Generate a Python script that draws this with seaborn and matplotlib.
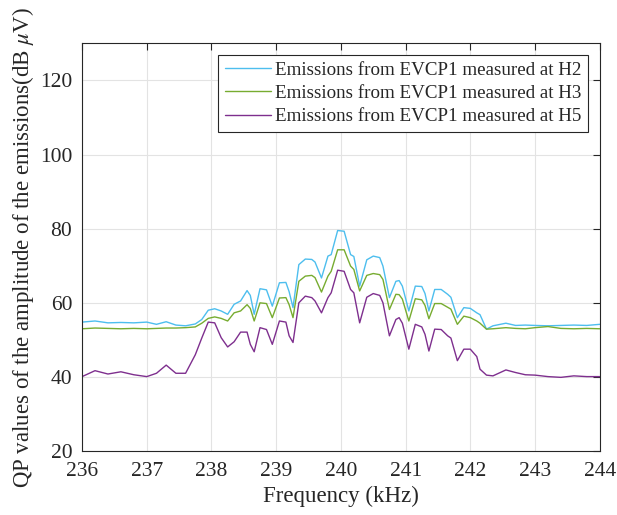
import matplotlib
matplotlib.use("Agg")
import matplotlib.pyplot as plt
import seaborn as sns
import pandas as pd

freq = [236.0, 236.2, 236.4, 236.6, 236.8, 237.0, 237.15, 237.3, 237.45, 237.6,
        237.75, 237.85, 237.95, 238.05, 238.15, 238.25, 238.35, 238.45, 238.55, 238.6,
        238.66, 238.75, 238.85, 238.94, 239.05, 239.15, 239.2, 239.26, 239.35, 239.45,
        239.55, 239.6, 239.7, 239.8, 239.85, 239.95, 240.05, 240.15, 240.2, 240.29,
        240.4, 240.5, 240.6, 240.65, 240.75, 240.85, 240.9, 240.95, 241.05, 241.15,
        241.25, 241.3, 241.36, 241.45, 241.55, 241.65, 241.7, 241.8, 241.9, 242.0,
        242.1, 242.15, 242.25, 242.35, 242.55, 242.7, 242.85, 243.0, 243.2, 243.4,
        243.6, 243.8, 244.0]

h2 = [54.8, 55.1, 54.6, 54.7, 54.6, 54.8, 54.2, 54.9, 54.0, 53.8,
      54.3, 55.5, 58.0, 58.4, 57.8, 56.9, 59.6, 60.5, 63.3, 62.0,
      56.9, 63.8, 63.5, 59.1, 65.4, 65.5, 63.0, 58.7, 70.3, 71.8,
      71.7, 71.0, 66.7, 72.6, 73.0, 79.5, 79.3, 73.0, 72.5, 64.5,
      71.6, 72.6, 72.2, 69.9, 61.4, 65.8, 66.0, 64.5, 57.8, 64.5,
      64.4, 62.5, 57.8, 63.6, 63.6, 62.3, 61.5, 56.0, 58.7, 58.5,
      57.3, 56.8, 52.9, 53.8, 54.5, 53.9, 54.0, 53.9, 53.8, 53.9,
      54.0, 53.9, 54.2]

h3 = [53.0, 53.2, 53.1, 53.0, 53.1, 53.0, 53.1, 53.2, 53.2, 53.3,
      53.5, 54.5, 55.8, 56.2, 55.8, 55.1, 57.3, 57.8, 59.5, 58.5,
      55.1, 60.0, 59.8, 56.0, 61.3, 61.4, 59.5, 56.0, 65.8, 67.2,
      67.4, 66.8, 62.9, 67.2, 68.5, 74.3, 74.3, 69.9, 69.0, 63.2,
      67.4, 67.9, 67.6, 66.3, 58.2, 62.3, 62.2, 61.0, 55.1, 61.1,
      60.8, 59.3, 55.7, 59.8, 59.8, 58.8, 58.3, 54.2, 56.4, 56.0,
      55.1, 54.5, 52.9, 53.0, 53.3, 53.1, 53.0, 53.3, 53.6, 53.1,
      53.0, 53.1, 53.0]

h5 = [40.1, 41.7, 40.8, 41.4, 40.6, 40.1, 41.0, 43.2, 41.0, 41.0,
      46.0, 50.5, 54.8, 54.6, 50.6, 48.1, 49.5, 52.1, 52.1, 48.8,
      46.8, 53.3, 52.8, 48.8, 55.1, 54.8, 51.1, 49.3, 60.0, 61.8,
      61.4, 60.5, 57.3, 61.4, 62.7, 68.8, 68.5, 63.6, 62.7, 54.6,
      61.5, 62.5, 62.0, 60.0, 51.1, 55.5, 56.0, 54.5, 47.5, 54.2,
      53.5, 51.5, 47.0, 52.9, 52.8, 51.1, 50.5, 44.4, 47.5, 47.5,
      45.5, 42.1, 40.5, 40.3, 41.9, 41.2, 40.6, 40.5, 40.1, 39.9,
      40.3, 40.1, 40.1]

labels = ["Emissions from EVCP1 measured at H2",
          "Emissions from EVCP1 measured at H3",
          "Emissions from EVCP1 measured at H5"]
colors = ["#4DBEEE", "#77AC30", "#7E2F8E"]

xticks = [236, 237, 238, 239, 240, 241, 242, 243, 244]
yticks = [20, 40, 60, 80, 100, 120]

frames = []
for lab, vals in zip(labels, [h2, h3, h5]):
    frames.append(pd.DataFrame({"freq": freq, "val": vals, "series": lab}))
df = pd.concat(frames, ignore_index=True)

sns.set_theme(style="whitegrid")
plt.rcParams["font.family"] = ["Liberation Serif", "DejaVu Serif"]
plt.rcParams["mathtext.fontset"] = "stix"

fig = plt.figure(figsize=(6.17, 5.15), dpi=100)
ax = fig.add_axes([0.133, 0.124, 0.839, 0.792])

sns.lineplot(data=df, x="freq", y="val", hue="series", palette=colors,
             linewidth=1.0, ax=ax, sort=False)

ax.set_xlim(236, 244)
ax.set_ylim(20, 130)
ax.set_xticks(xticks)
ax.set_yticks(yticks)
ax.tick_params(axis="both", labelsize=15.5, direction="in", length=5,
               top=True, right=True, color="#262626", labelcolor="#262626",
               width=0.8)
ax.tick_params(axis="x", pad=8)
ax.tick_params(axis="y", pad=7)
ax.grid(True, color="#e3e3e3", linewidth=0.8)
for s in ax.spines.values():
    s.set_visible(True)
    s.set_color("#262626")
    s.set_linewidth(0.8)
ax.set_facecolor("white")

ax.set_xlabel("Frequency (kHz)", fontsize=16.5, color="#262626", labelpad=3)
ax.set_ylabel(r"QP values of the amplitude of the emissions(dB $\mu$V)",
              fontsize=16.5, color="#262626", labelpad=3)

leg = ax.legend(loc="upper right", fontsize=13.7, frameon=True, fancybox=False,
                framealpha=1, edgecolor="#262626", handlelength=2.4,
                handletextpad=0.25, borderpad=0.35, labelspacing=0.32,
                borderaxespad=0.6, title=None)
leg.get_frame().set_linewidth(0.8)

fig.savefig("out.png", dpi=100, facecolor="white")
